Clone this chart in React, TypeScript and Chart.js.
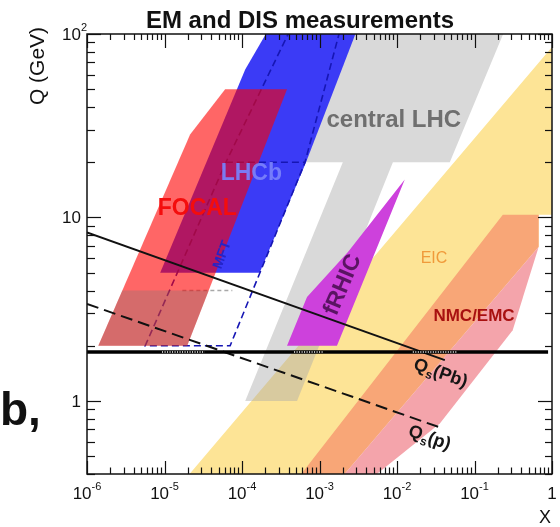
import React, { useEffect, useRef } from "react";
import { Chart, registerables } from "chart.js";

Chart.register(...registerables);

const FF = '"Liberation Sans", Arial, Helvetica, sans-serif';

// ---- axis ranges ----
const X_MIN = 1e-6;
const X_MAX = 1;
const Q_MIN = 0.4;
const Q_MAX = 100;
const X_TICK_EXP = [-6, -5, -4, -3, -2, -1, 0];
const Q_TICK_EXP = [0, 1, 2];

// ---- regions (x, Q in GeV) ----
const lhcX = [2.8e-3, 0.246, 4.8e-2, 8.85e-3, 5.13e-4, 1.1e-4, 2.0e-3, 6.5e-4];
const lhcQ = [105, 105, 20, 20, 1, 1, 20, 20];

const eicX = [2.0e-5, 1, 1, 0.673, 0.673, 2.0e-3];
const eicQ = [0.39, 85, 10.35, 10.35, 6.92, 0.39];

const nmcX = [5.55e-4, 0.232, 0.673, 0.673, 2.0e-3];
const nmcQ = [0.39, 10.35, 10.35, 6.92, 0.39];

const pinkX = [2.0e-3, 0.673, 0.311, 3.57e-2, 5.1e-3];
const pinkQ = [0.39, 6.92, 2.43, 0.755, 0.39];

const lhcbX = [2.17e-4, 3.04e-3, 6.7e-4, 1.69e-4, 8.8e-6, 1.1e-4];
const lhcbQ = [105, 105, 20, 5, 5, 64];

const lhcbDashX = [4.17e-4, 6.2e-5, 5.64e-6, 7.03e-5, 6.5e-4, 1.84e-3];
const lhcbDashQ = [105, 20, 2, 2, 20, 105];
const lhcbTopX = [6.2e-5, 6.5e-4];
const lhcbTopQ = [20, 20];

const greyDashX = [1.7e-5, 7.5e-5];
const greyDashQ = [4, 4];

const focalX = [6.06e-5, 3.81e-4, 1.963e-5, 1.40e-6, 2.14e-5];
const focalQ = [50, 50, 2, 2, 28.3];

const focalLowX = [2.86e-6, 3.72e-5, 1.963e-5, 1.40e-6];
const focalLowQ = [4, 4, 2, 2];

const frhicX = [1.26e-2, 1.68e-3, 3.81e-4, 6.9e-4, 2.33e-3];
const frhicQ = [16.1, 2, 2, 3.69, 6.49];

// ---- saturation scales and cut line ----
const qsPbX = [1e-6, 0.0414];
const qsPbQ = [8.3, 1.67];
const qsPX = [1e-6, 0.0357];
const qsPQ = [3.38, 0.718];
const cutX = [1e-6, 0.89];
const cutQ = [1.85, 1.85];
const hatchX = [9.3e-6, 3.3e-5, 1.5e-4, 4.7e-4, 1.1e-3, 4e-3, 1.6e-2, 6.1e-2];
const hatchQ = [1.85, 1.85, null, 1.85, 1.85, null, 1.85, 1.85];

// ---- labels ----
const labelText = ["central LHC", "LHCb", "FOCAL", "fRHIC", "EIC", "NMC/EMC", "MFT"];
const labelX = [9.1e-3, 1.32e-4, 2.65e-5, 2.0e-3, 0.030, 0.0986, 5.57e-5];
const labelQ = [33.8, 17.3, 11.2, 4.29, 5.95, 2.9, 6.25];
const qsLabelX = [0.0368, 0.0265];
const qsLabelQ = [1.43, 0.635];
const qsLabelSub = ["(Pb)", "(p)"];

function pts(xs: number[], qs: (number | null)[], close = false) {
  const d = xs.map((x, i) => ({ x, y: qs[i] }));
  if (close) d.push({ x: xs[0], y: qs[0] });
  return d;
}

function poly(xs: number[], qs: number[], color: string) {
  return {
    data: pts(xs, qs, true),
    fill: "shape",
    backgroundColor: color,
    borderWidth: 0,
    borderColor: "rgba(0,0,0,0)",
    pointRadius: 0,
    tension: 0,
  };
}

function line(xs: number[], qs: (number | null)[], color: string, width: number, dash: number[] = []) {
  return {
    data: pts(xs, qs),
    fill: false,
    borderColor: color,
    borderWidth: width,
    borderDash: dash,
    pointRadius: 0,
    tension: 0,
    spanGaps: false,
    borderCapStyle: "butt",
  };
}

const labelStyles = [
  { font: `bold 24px ${FF}`, color: "#6f6f6f", rot: 0 },
  { font: `bold 23px ${FF}`, color: "rgba(120,128,250,0.95)", rot: 0 },
  { font: `bold 23px ${FF}`, color: "#f40d0d", rot: 0 },
  { font: `bold 23px ${FF}`, color: "#5a1463", rot: -1.17 },
  { font: `16px ${FF}`, color: "#f09a3a", rot: 0 },
  { font: `bold 17px ${FF}`, color: "#a81010", rot: 0 },
  { font: `bold 14px ${FF}`, color: "#2424c8", rot: -1.22 },
];

function drawPow(ctx: CanvasRenderingContext2D, cx: number, baseline: number, exp: number) {
  const big = `17px ${FF}`;
  const small = `11px ${FF}`;
  ctx.fillStyle = "#111";
  ctx.textBaseline = "alphabetic";
  if (exp === 0) {
    ctx.font = big;
    ctx.textAlign = "center";
    ctx.fillText("1", cx, baseline);
    return;
  }
  ctx.font = big;
  const w1 = ctx.measureText("10").width;
  ctx.font = small;
  const s = String(exp);
  const w2 = ctx.measureText(s).width;
  const x = cx - (w1 + w2) / 2;
  ctx.textAlign = "left";
  ctx.font = big;
  ctx.fillText("10", x, baseline);
  ctx.font = small;
  ctx.fillText(s, x + w1, baseline - 9.5);
}

function drawQs(ctx: CanvasRenderingContext2D, cx: number, cy: number, sub: string) {
  ctx.save();
  ctx.translate(cx, cy);
  ctx.rotate(0.34);
  const big = `bold 18px ${FF}`;
  const small = `bold 12px ${FF}`;
  ctx.font = big;
  const wQ = ctx.measureText("Q").width;
  const wP = ctx.measureText(sub).width;
  ctx.font = small;
  const wS = ctx.measureText("s").width;
  let x = -(wQ + wS + wP) / 2;
  ctx.fillStyle = "#151515";
  ctx.textAlign = "left";
  ctx.textBaseline = "alphabetic";
  ctx.font = big;
  ctx.fillText("Q", x, 6);
  x += wQ;
  ctx.font = small;
  ctx.fillText("s", x, 10);
  x += wS;
  ctx.font = big;
  ctx.fillText(sub, x, 6);
  ctx.restore();
}

const decor = {
  id: "decor",
  afterDatasetsDraw(chart: any) {
    const ctx: CanvasRenderingContext2D = chart.ctx;
    const xs = chart.scales.x;
    const ys = chart.scales.y;
    const { left, right, top, bottom } = chart.chartArea;
    ctx.save();

    // region labels
    labelText.forEach((t, i) => {
      const st = labelStyles[i];
      const px = xs.getPixelForValue(labelX[i]);
      const py = ys.getPixelForValue(labelQ[i]);
      ctx.save();
      ctx.translate(px, py);
      ctx.rotate(st.rot);
      ctx.font = st.font;
      ctx.fillStyle = st.color;
      ctx.textAlign = "center";
      ctx.textBaseline = "middle";
      ctx.fillText(t, 0, 0);
      ctx.restore();
    });

    // Qs labels
    qsLabelSub.forEach((s, i) => {
      drawQs(ctx, xs.getPixelForValue(qsLabelX[i]), ys.getPixelForValue(qsLabelQ[i]), s);
    });

    // frame
    ctx.strokeStyle = "#111";
    ctx.lineWidth = 1.5;
    ctx.strokeRect(left, top, right - left, bottom - top);

    // ticks
    ctx.lineWidth = 1.2;
    const seg = (x1: number, y1: number, x2: number, y2: number) => {
      ctx.beginPath();
      ctx.moveTo(x1, y1);
      ctx.lineTo(x2, y2);
      ctx.stroke();
    };
    for (let e = -6; e <= 0; e++) {
      for (let m = 1; m <= 9; m++) {
        const v = m * Math.pow(10, e);
        if (v > X_MAX * 1.0001) break;
        const px = Math.round(xs.getPixelForValue(v)) + 0.5;
        const major = m === 1;
        seg(px, bottom, px, bottom - (major ? 13 : 6.5));
        seg(px, top, px, top + (major ? 14 : 6));
      }
    }
    for (let e = -1; e <= 2; e++) {
      for (let m = 1; m <= 9; m++) {
        const v = m * Math.pow(10, e);
        if (v < Q_MIN * 0.999 || v > Q_MAX * 1.0001) continue;
        const py = Math.round(ys.getPixelForValue(v)) + 0.5;
        const major = m === 1;
        seg(left, py, left + (major ? 14 : 8), py);
        seg(right, py, right - (major ? 14 : 7), py);
      }
    }

    // tick labels
    X_TICK_EXP.forEach((e) => drawPow(ctx, xs.getPixelForValue(Math.pow(10, e)), bottom + 25, e));
    Q_TICK_EXP.forEach((e) => {
      const py = ys.getPixelForValue(Math.pow(10, e));
      const rx = left - 6;
      ctx.fillStyle = "#111";
      ctx.textBaseline = "alphabetic";
      ctx.font = `17px ${FF}`;
      ctx.textAlign = "right";
      if (e === 0) ctx.fillText("1", rx, py + 6);
      else if (e === 1) ctx.fillText("10", rx, py + 6);
      else {
        ctx.fillText("10", rx, py + 6);
        ctx.font = `11px ${FF}`;
        ctx.textAlign = "left";
        ctx.fillText(String(e), rx, py - 3);
      }
    });

    // axis titles and headings
    ctx.fillStyle = "#111";
    ctx.textAlign = "center";
    ctx.textBaseline = "alphabetic";
    ctx.font = `bold 24px ${FF}`;
    ctx.fillText("EM and DIS measurements", 300, 28);
    ctx.font = `18px ${FF}`;
    ctx.fillText("X", 545, 523);
    ctx.save();
    ctx.translate(44, 66);
    ctx.rotate(-Math.PI / 2);
    ctx.font = `21px ${FF}`;
    ctx.fillText("Q (GeV)", 0, 0);
    ctx.restore();
    ctx.font = `bold 46px ${FF}`;
    ctx.textAlign = "left";
    ctx.fillText("b,", 0, 425);

    ctx.restore();
  },
};

export default function App() {
  const ref = useRef<HTMLCanvasElement>(null);
  useEffect(() => {
    const layers: any[] = [
      poly(eicX, eicQ, "#fde496"),
      poly(lhcX, lhcQ, "rgba(170,170,170,0.45)"),
      poly(nmcX, nmcQ, "#f8a677"),
      poly(pinkX, pinkQ, "#f4a4ab"),
      poly(lhcbX, lhcbQ, "#3b3bf6"),
      line(lhcbDashX, lhcbDashQ, "#1616b4", 1.6, [7, 4]),
      line(lhcbTopX, lhcbTopQ, "#1616b4", 1.6, [7, 4]),
      line(greyDashX, greyDashQ, "#a8a8a8", 1.6, [4, 3]),
      poly(focalX, focalQ, "rgba(255,0,0,0.6)"),
      poly(focalLowX, focalLowQ, "rgba(115,115,115,0.3)"),
      poly(frhicX, frhicQ, "#cd41dc"),
      line(qsPbX, qsPbQ, "#111", 2),
      line(qsPX, qsPQ, "#111", 2, [12, 6]),
      line(cutX, cutQ, "#000", 3.5),
      line(hatchX, hatchQ, "#ffffff", 1.6, [1, 1.5]),
    ];
    const n = layers.length;
    layers.forEach((d, i) => (d.order = n - i));
    const chart = new Chart(ref.current as HTMLCanvasElement, {
      type: "line",
      data: { datasets: layers },
      options: {
        responsive: false,
        maintainAspectRatio: false,
        animation: false,
        devicePixelRatio: 1,
        events: [],
        layout: { padding: { left: 87, right: 8, top: 34, bottom: 53 } },
        scales: {
          x: { type: "logarithmic", min: X_MIN, max: X_MAX, display: false },
          y: { type: "logarithmic", min: Q_MIN, max: Q_MAX, display: false },
        },
        plugins: {
          legend: { display: false },
          tooltip: { enabled: false },
          title: { display: false },
          filler: { propagate: false },
        },
        elements: { point: { radius: 0 }, line: { tension: 0 } },
      } as any,
      plugins: [decor],
    });
    return () => chart.destroy();
  }, []);
  return (
    <div style={{ position: "absolute", left: 0, top: 0, width: 560, height: 527, background: "#fff" }}>
      <canvas ref={ref} width={560} height={527} style={{ width: 560, height: 527, display: "block" }} />
    </div>
  );
}
